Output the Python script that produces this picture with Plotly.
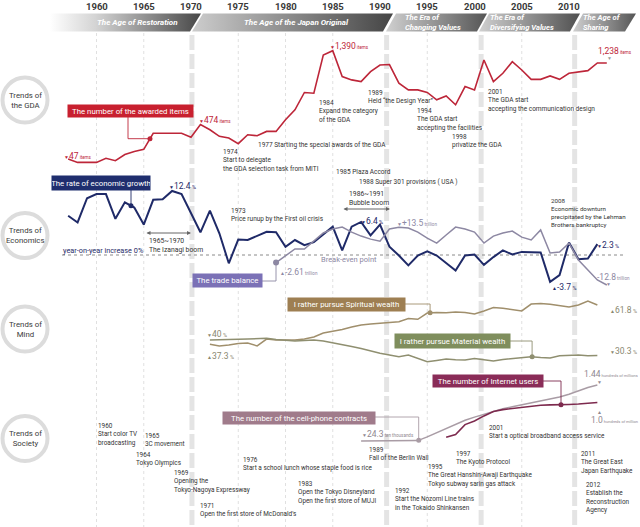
import numpy as np
import plotly.graph_objects as go

W, H = 640, 527
NARROW = "Roboto, Liberation Sans, sans-serif"

# ------------------------------------------------------------------ data
gda_years = list(range(1957, 2015))
gda_items = [47, 5, 5, 5, 56, 26, 103, 140, 167, 366,
             366, 366, 366, 316, 474, 410, 328, 307, 237, 348,
             336, 389, 389, 533, 657, 872, 863, 1337, 1390, 1069,
             1028, 1007, 1131, 1213, 1218, 987, 904, 904, 872, 781,
             829, 719, 945, 904, 1275, 1007, 1110, 1254, 1151, 1035,
             1035, 1077, 1035, 1110, 1131, 1143, 1238, 1238]

growth_years = list(range(1957, 2014))
growth_rate = [7.6, 6.3, 11.0, 11.8, 11.8, 7.0, 10.2, 9.2, 5.9, 10.7,
               10.8, 12.4, 11.8, 8.1, 4.4, 8.6, 4.2, -1.6, 3.0, 2.9,
               3.7, 4.5, 4.4, 1.6, 2.9, 1.9, 2.5, 4.0, 5.5, 0.9,
               5.5, 6.4, 3.8, 5.9, 1.6, -0.1, -2.0, -0.1, 0.7, -0.1,
               -1.5, -3.0, -0.1, 0.1, -1.9, -0.4, 0.9, 0.1, 0.6, 0.5,
               0.5, -5.2, -3.9, 2.4, -0.8, -0.7, 2.1]

trade_years = list(range(1979, 2015))
trade_balance = [-2.61, 0.4, 3.6, 3.6, 7.2, 10.9, 12.7, 13.6, 11.3, 9.5,
                 8.1, 7.2, 12.7, 13.5, 13.2, 11.3, 8.6, 6.3, 10.0, 13.6,
                 12.7, 11.3, 6.3, 9.5, 10.9, 11.8, 9.0, 7.7, 12.3, 1.8,
                 2.2, 6.3, -1.4, -6.0, -10.5, -12.8]

mind_years = list(range(1972, 2014))
spiritual_pct = [37.3, 36.3, 36.9, 37.8, 38.1, 36.3, 40.6, 40.0, 40.0, 40.0,
                 40.6, 41.9, 44.4, 45.3, 46.5, 48.1, 49.4, 50.0, 50.4, 50.9,
                 51.4, 53.4, 52.9, 56.8, 57.2, 57.0, 57.5, 57.2, 56.2, 58.1,
                 60.2, 59.7, 58.7, 58.1, 62.4, 62.8, 62.3, 61.3, 60.5, 61.8,
                 64.3, 61.8]
material_pct = [40.0, 40.0, 40.3, 40.4, 40.6, 40.9, 41.1, 40.3, 39.7, 39.4,
                39.7, 40.0, 39.4, 38.1, 37.2, 35.9, 34.7, 33.1, 31.7, 30.6,
                29.6, 30.6, 28.5, 26.4, 27.2, 28.1, 27.7, 27.5, 28.5, 27.8,
                26.9, 27.8, 28.4, 28.8, 29.6, 29.1, 28.8, 30.2, 30.4, 30.6,
                30.2, 30.3]

cell_years = list(range(1988, 2014))          # hundreds of millions
cell_contracts = [0.0243, 0.025, 0.027, 0.029, 0.03, 0.032, 0.035, 0.13, 0.24, 0.35,
                  0.44, 0.55, 0.63, 0.70, 0.77, 0.84, 0.89, 0.94, 1.00, 1.05,
                  1.09, 1.14, 1.21, 1.30, 1.38, 1.44]
internet_years = list(range(1997, 2014))
internet_users = [0.12, 0.19, 0.44, 0.53, 0.66, 0.77, 0.82, 0.85, 0.88, 0.91,
                  0.93, 0.94, 0.94, 0.95, 0.96, 0.98, 1.00]

tick_years = [1960, 1965, 1970, 1975, 1980, 1985, 1990, 1995, 2000, 2005, 2010]
minor_years = [1960, 1965, 1975, 1980, 1985, 1995, 2005]
era_bounds = [1970.1, 1990.7, 2000.7, 2010.6]

# ------------------------------------------------------------------ scales
YEAR0, PX0, PPY = 1960, 96.5, 9.45
x_range = [YEAR0 - PX0 / PPY, YEAR0 + (W - PX0) / PPY]


def xpx(year):
    return PX0 + (year - YEAR0) * PPY


def scale(v1, p1, v2, p2):
    b = (p1 - p2) / (v2 - v1)
    a = p1 + v1 * b
    return [(a - H) / b, a / b], (lambda v: a - b * v)


gda_rng, gda_py = scale(47, 159, 1390, 50.7)
gr_rng, gr_py = scale(0, 255, 12.4, 191)
tb_rng, tb_py = scale(0, 256.9, 13.5, 227.3)
mind_rng, mind_py = scale(40, 340, 61.8, 305)
soc_rng, soc_py = scale(0, 442, 1.44, 385.1)

RED, NAVY, TRADE, TRADE_BOX = "#bd2639", "#1f2a68", "#8d88a3", "#7b71b6"
SPI, MAT, SPI_BOX, MAT_BOX = "#a08f6c", "#8f8f70", "#9e7f52", "#7f8e5d"
NET, CELL, NET_BOX, CELL_BOX = "#7d2a4e", "#a99ca5", "#8a2c58", "#a07b8b"
TXT = "#333333"

fig = go.Figure()
shapes, anns = [], []

# ------------------------------------------------------------------ header band
header = [
    ([50, 201, 190, 50], [[0, "#ffffff"], [0.3, "#d4d4d4"], [1, "#474747"]]),
    ([203, 393, 383, 192], [[0, "#cdcdcd"], [1, "#454545"]]),
    ([396, 487, 477, 386], [[0, "#d0d0d0"], [1, "#555555"]]),
    ([489, 580, 570, 479], [[0, "#d0d0d0"], [1, "#505050"]]),
    ([583, 636, 625, 573], [[0, "#cfcfcf"], [1, "#555555"]]),
]
for xs, cs in header:
    fig.add_trace(go.Scatter(x=xs + [xs[0]], y=[13.5, 13.5, 31.5, 31.5, 13.5],
                             xaxis="x2", yaxis="y6", mode="lines", line=dict(width=0),
                             fill="toself", fillgradient=dict(type="horizontal", colorscale=cs),
                             hoverinfo="skip", showlegend=False))


def note(x, y, text, size=6.5, color=TXT, xanchor="left", yanchor="middle", family=NARROW):
    anns.append(dict(x=x, y=y, xref="x2", yref="y6", text=text, showarrow=False,
                     xanchor=xanchor, yanchor=yanchor, borderpad=0, align=xanchor if xanchor != "center" else "center",
                     font=dict(size=size, color=color, family=family)))


def block(x, ys, lines, **kw):
    note(x, sum(ys) / len(ys), "<br>".join(lines), **kw)


note(137, 22.5, "<b><i>The Age of Restoration</i></b>", size=8, color="white", xanchor="center")
note(296, 22.5, "<b><i>The Age of the Japan Original</i></b>", size=8, color="white", xanchor="center")
block(404, [17.5, 26.5], ["<b><i>The Era of</i></b>", "<b><i>Changing Values</i></b>"], size=7.6, color="white")
block(489, [17.5, 26.5], ["<b><i>The Era of</i></b>", "<b><i>Diversifying Values</i></b>"], size=7.6, color="white")
block(582, [17.5, 26.5], ["<b><i>The Age of</i></b>", "<b><i>Sharing</i></b>"], size=7.6, color="white")

for yv in tick_years:
    anns.append(dict(x=yv, y=6, xref="x", yref="y6", text=f"<b>{yv}</b>", showarrow=False,
                     font=dict(size=9.5, color="#3a3a3a", family=NARROW)))

# ------------------------------------------------------------------ grid lines
for yv in minor_years:
    shapes.append(dict(type="line", xref="x", yref="y6", x0=yv, x1=yv, y0=33, y1=H,
                       line=dict(color="#e0e0e0", width=1, dash="dot"), layer="below"))
for yv in era_bounds:
    shapes.append(dict(type="line", xref="x", yref="y6", x0=yv, x1=yv, y0=35, y1=H,
                       line=dict(color="#e4e4e4", width=5, dash="15px,4px"), layer="below"))

# zero line
shapes.append(dict(type="line", xref="x2", yref="y2", x0=62, x1=625, y0=0, y1=0,
                   line=dict(color="#8a8a8a", width=1, dash="dot"), layer="below"))

# ------------------------------------------------------------------ left circles
for cy, l1, l2 in [(100, "Trends of", "the GDA"), (235.5, "Trends of", "Economics"),
                   (329, "Trends of", "Mind"), (438.5, "Trends of", "Society")]:
    shapes.append(dict(type="circle", xref="x2", yref="y6", x0=25 - 22.5, x1=25 + 22.5,
                       y0=cy - 22.5, y1=cy + 22.5, line=dict(color="#dcdcdc", width=4),
                       fillcolor="white"))
    block(25, [cy, cy], [l1, l2], size=7.8, color="#3a3a3a", xanchor="center")


# ------------------------------------------------------------------ data lines
def line(x, y, yaxis, color, width):
    fig.add_trace(go.Scatter(x=x, y=y, xaxis="x", yaxis=yaxis, mode="lines",
                             line=dict(color=color, width=width), hoverinfo="skip",
                             showlegend=False))


line(gda_years, gda_items, "y", RED, 1.6)
line(trade_years, trade_balance, "y3", TRADE, 1.5)
line(growth_years, growth_rate, "y2", NAVY, 2.0)
line(mind_years, spiritual_pct, "y4", SPI, 1.5)
line(mind_years, material_pct, "y4", MAT, 1.5)
line(cell_years, cell_contracts, "y5", CELL, 1.5)
line(internet_years, internet_users, "y5", NET, 1.6)


# ------------------------------------------------------------------ label boxes + connectors
def box(cx, cy, w, h, text, color):
    anns.append(dict(x=cx, y=cy, xref="x2", yref="y6", text=text, showarrow=False,
                     width=w, height=h, bgcolor=color, borderpad=0, align="center",
                     font=dict(size=7.8, color="white", family=NARROW)))


def dot_and_link(year, years, vals, yaxis, py_fn, color, path_pts, size=5):
    v = float(np.interp(year, years, vals))
    px, py = xpx(year), py_fn(v)
    pts = path_pts + [(px, py)]
    d = "M " + " L ".join(f"{a:.1f},{b:.1f}" for a, b in pts)
    shapes.append(dict(type="path", xref="x2", yref="y6", path=d,
                       line=dict(color=color, width=0.9)))
    fig.add_trace(go.Scatter(x=[year], y=[v], xaxis="x", yaxis=yaxis, mode="markers",
                             marker=dict(size=size, color=color), hoverinfo="skip",
                             showlegend=False))
    return px, py


box(130.5, 110.5, 125, 12, "The number of the awarded items", "#c8202f")
dot_and_link(1965.66, gda_years, gda_items, "y", gda_py, RED,
             [(128, 116.5), (128, gda_py(np.interp(1965.66, gda_years, gda_items)))])

box(101, 182.5, 98, 14, "The rate of economic growth", "#1f2e6e")
dot_and_link(1963.65, growth_years, growth_rate, "y2", gr_py, NAVY, [(xpx(1963.65), 189.5)])

box(227.5, 280, 69, 13, "The trade balance", TRADE_BOX)
tx = xpx(1979)
dot_and_link(1979, trade_years, trade_balance, "y3", tb_py, TRADE, [(262, 281), (tx, 281)], size=6)

box(346.5, 304, 117, 13, "I rather pursue Spiritual wealth", SPI_BOX)
dot_and_link(1995.3, mind_years, spiritual_pct, "y4", mind_py, SPI, [(405, 304), (xpx(1995.3), 304)])

box(452.5, 341, 115, 14, "I rather pursue Material wealth", MAT_BOX)
dot_and_link(2006.1, mind_years, material_pct, "y4", mind_py, MAT, [(510, 341), (xpx(2006.1), 341)])

box(488, 380.5, 110, 12, "The number of Internet users", NET_BOX)
dot_and_link(2009.15, internet_years, internet_users, "y5", soc_py, NET, [(543, 381), (xpx(2009.15), 381)])

box(299, 417.5, 152, 12, "The number of the cell-phone contracts", CELL_BOX)
dot_and_link(1994.1, cell_years, cell_contracts, "y5", soc_py, CELL, [(375, 417), (xpx(1994.1), 417)])


# ------------------------------------------------------------------ value labels
def val(x, y, big, unit, color, tri="▼", unit_size=4.5, size=8.5):
    t = f"<span style='font-size:5px'>{tri}</span>{big}<span style='font-size:{unit_size}px'> {unit}</span>"
    note(x, y, t, size=size, color=color)


val(63, 156, "47", "items", RED)
val(198, 120, "474", "items", RED)
val(329, 45.5, "1,390", "items", RED)
note(597, 50.5, "1,238<span style='font-size:4.5px'> items</span>", size=8.5, color=RED)
note(606, 57.5, "▼", size=5, color="#999999")

val(168, 186, "12.4", "%", NAVY, unit_size=5.5)
val(360, 220.5, "6.4", "%", NAVY, unit_size=5.5)
val(396, 222.5, "+13.5", "trillion", TRADE)
val(596, 244.5, "2.3", "%", NAVY, unit_size=5.5)
note(596, 277, "-12.8<span style='font-size:4.5px'> trillion</span>", size=8.5, color=TRADE)
note(605, 284, "▼", size=5, color=TRADE)
val(551, 287, "-3.7", "%", NAVY, tri="▲", unit_size=5.5)
val(279, 271.5, "-2.61", "trillion", TRADE, tri="▲")

note(62, 250.5, "year-on-year increase 0%", size=7.3, color=NAVY)
note(320, 259.5, "Break-even point", size=7.5, color=TRADE)

val(206, 334, "40", "%", "#8a8870", unit_size=5.5)
val(206, 355.5, "37.3", "%", "#8a8870", tri="▲", unit_size=5.5)
val(609, 310, "61.8", "%", "#8a8870", tri="▲", unit_size=5.5)
val(609, 351, "30.3", "%", "#8a8870", unit_size=5.5)

val(361, 434, "24.3", "ten thousands", "#8f8890")
note(639, 374, "1.44<span style='font-size:4px'> hundreds of millions</span>", size=8.5,
     color="#8f8890", xanchor="right")
note(596, 381.5, "▼", size=5, color="#8f8890")
note(639, 420, "1.0<span style='font-size:4px'> hundreds of million</span>", size=8.5,
     color="#8f8890", xanchor="right")
note(596, 412, "▲", size=5, color="#8f8890")

# ------------------------------------------------------------------ event notes
block(222, [152, 160, 168], ["1974", "Start to delegate", "the GDA selection task from MITI"])
block(257, [145], ["1977 Starting the special awards of the GDA"])
block(318, [104, 111.5, 119], ["1984", "Expand the category", "of the GDA"])
block(367, [93, 100.5], ["1989", "Held \u201cthe Design Year\u201d"])
block(416, [112, 119.5, 127], ["1994", "The GDA start", "accepting the facilities"])
block(451, [137, 145], ["1998", "privatize the GDA"])
block(487, [93, 100.5, 108], ["2001", "The GDA start", "accepting the communication design"])

block(335, [172], ["1985 Plaza Accord"])
block(358, [182], ["1988 Super 301 provisions ( USA )"])
block(348, [195, 202], ["1986~1991", "Bubble boom"], size=6.8)
block(148, [242, 249], ["1965~1970", "The Izanagi boom"], size=6.8)
block(230, [211, 218], ["1973", "Price runup by the First oil crisis"])
block(550, [203, 210, 216.8, 223.5], ["2008", "Economic downturn", "precipitated by the Lehman", "Brothers bankruptcy"], size=6.2)

for x0, x1, yy in [(145, 191, 233), (342, 390, 209)]:
    anns.append(dict(x=x1, y=yy, ax=x0, ay=yy, xref="x2", yref="y6", axref="x2", ayref="y6",
                     text="", showarrow=True, arrowhead=2, arrowside="end+start",
                     arrowsize=0.8, arrowwidth=1, arrowcolor="#666666"))

SS = 6.4
block(97, [428.3, 434.5, 440.5], ["1960", "Start color TV", "broadcasting"], size=SS)
block(144, [436.7, 443], ["1965", "3C movement"], size=SS)
block(135, [456, 462], ["1964", "Tokyo Olympics"], size=SS)
block(173, [476, 481.8, 487.5], ["1969", "Opening the", "Tokyo-Nagoya Expressway"], size=SS)
block(199, [506.7, 513.3], ["1971", "Open the first store of McDonald's"], size=SS)
block(242, [460.7, 467.3], ["1976", "Start a school lunch whose staple food is rice"], size=SS)
block(297, [485, 493, 500], ["1983", "Open the Tokyo Disneyland", "Open the first store of MUJI"], size=SS)
block(368, [450, 457.3], ["1989", "Fall of the Berlin Wall"], size=SS)
block(394, [492.7, 499.5, 506.7], ["1992", "Start the Nozomi Line trains", "in the Tokaido Shinkansen"], size=SS)
block(427, [467.3, 475, 482.7], ["1995", "The Great Hanshin-Awaji Earthquake", "Tokyo subway sarin gas attack"], size=SS)
block(455, [455, 461.7], ["1997", "The Kyoto Protocol"], size=SS)
block(488, [428.3, 436], ["2001", "Start a optical broadband access service"], size=SS)
block(580, [455, 461.7, 469.3], ["2011", "The Great East", "Japan Earthquake"], size=SS)
block(585, [486, 493.3, 501.5, 509.3], ["2012", "Establish the", "Reconstruction", "Agency"], size=SS)

# ------------------------------------------------------------------ layout
hid = dict(visible=False, fixedrange=True)
fig.update_layout(
    width=W, height=H, margin=dict(l=0, r=0, t=0, b=0),
    paper_bgcolor="white", plot_bgcolor="white", showlegend=False,
    xaxis=dict(range=x_range, **hid),
    xaxis2=dict(range=[0, W], overlaying="x", **hid),
    yaxis=dict(range=gda_rng, **hid),
    yaxis2=dict(range=gr_rng, overlaying="y", **hid),
    yaxis3=dict(range=tb_rng, overlaying="y", **hid),
    yaxis4=dict(range=mind_rng, overlaying="y", **hid),
    yaxis5=dict(range=soc_rng, overlaying="y", **hid),
    yaxis6=dict(range=[H, 0], overlaying="y", **hid),
    shapes=shapes, annotations=anns,
    font=dict(family=NARROW, color=TXT),
)
fig.write_html("out.html")
